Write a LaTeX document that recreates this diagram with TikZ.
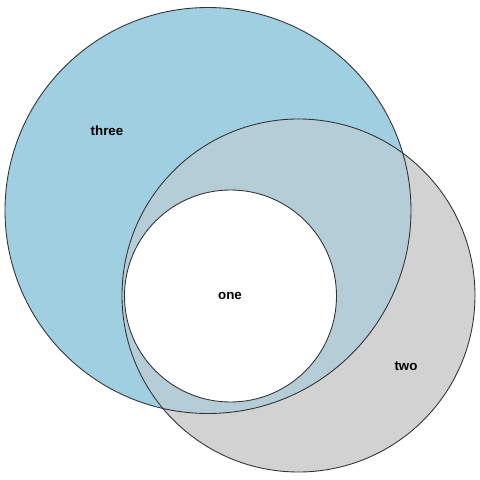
\documentclass[tikz,border=0pt]{standalone}
\usepackage{fontspec}
\setmainfont{Liberation Sans}
\usepackage{tikz}
\usetikzlibrary{positioning}
\definecolor{SetBlue}{HTML}{9FCFE0}
\definecolor{SetGray}{HTML}{D2D2D2}
\definecolor{SetMix}{HTML}{B5CDD7}
\definecolor{Edge}{HTML}{333333}

\begin{document}
\begin{tikzpicture}[every node/.style={font=\fontsize{7.6}{9}\selectfont\bfseries}]
  \useasboundingbox (0,0) rectangle (9.6,9.6);
  \coordinate (cthree) at (4.16,5.39);
  \coordinate (ctwo) at (5.97,3.69);
  \coordinate (cone) at (4.61,3.68);

  \fill[SetBlue] (cthree) circle (4.06);
  \fill[SetGray] (ctwo) circle (3.53);
  \begin{scope}
    \clip (cthree) circle (4.06);
    \fill[SetMix] (ctwo) circle (3.53);
  \end{scope}
  \fill[white] (cone) circle (2.12);

  \draw[Edge, line width=0.5pt] (cthree) circle (4.06);
  \draw[Edge, line width=0.5pt] (ctwo) circle (3.53);
  \draw[Edge, line width=0.5pt] (cone) circle (2.12);

  \node (three) at (2.14,6.98) {three};
  \node (two) at (8.12,2.28) {two};
  \node (one) at (4.6,3.68) {one};
\end{tikzpicture}
\end{document}
